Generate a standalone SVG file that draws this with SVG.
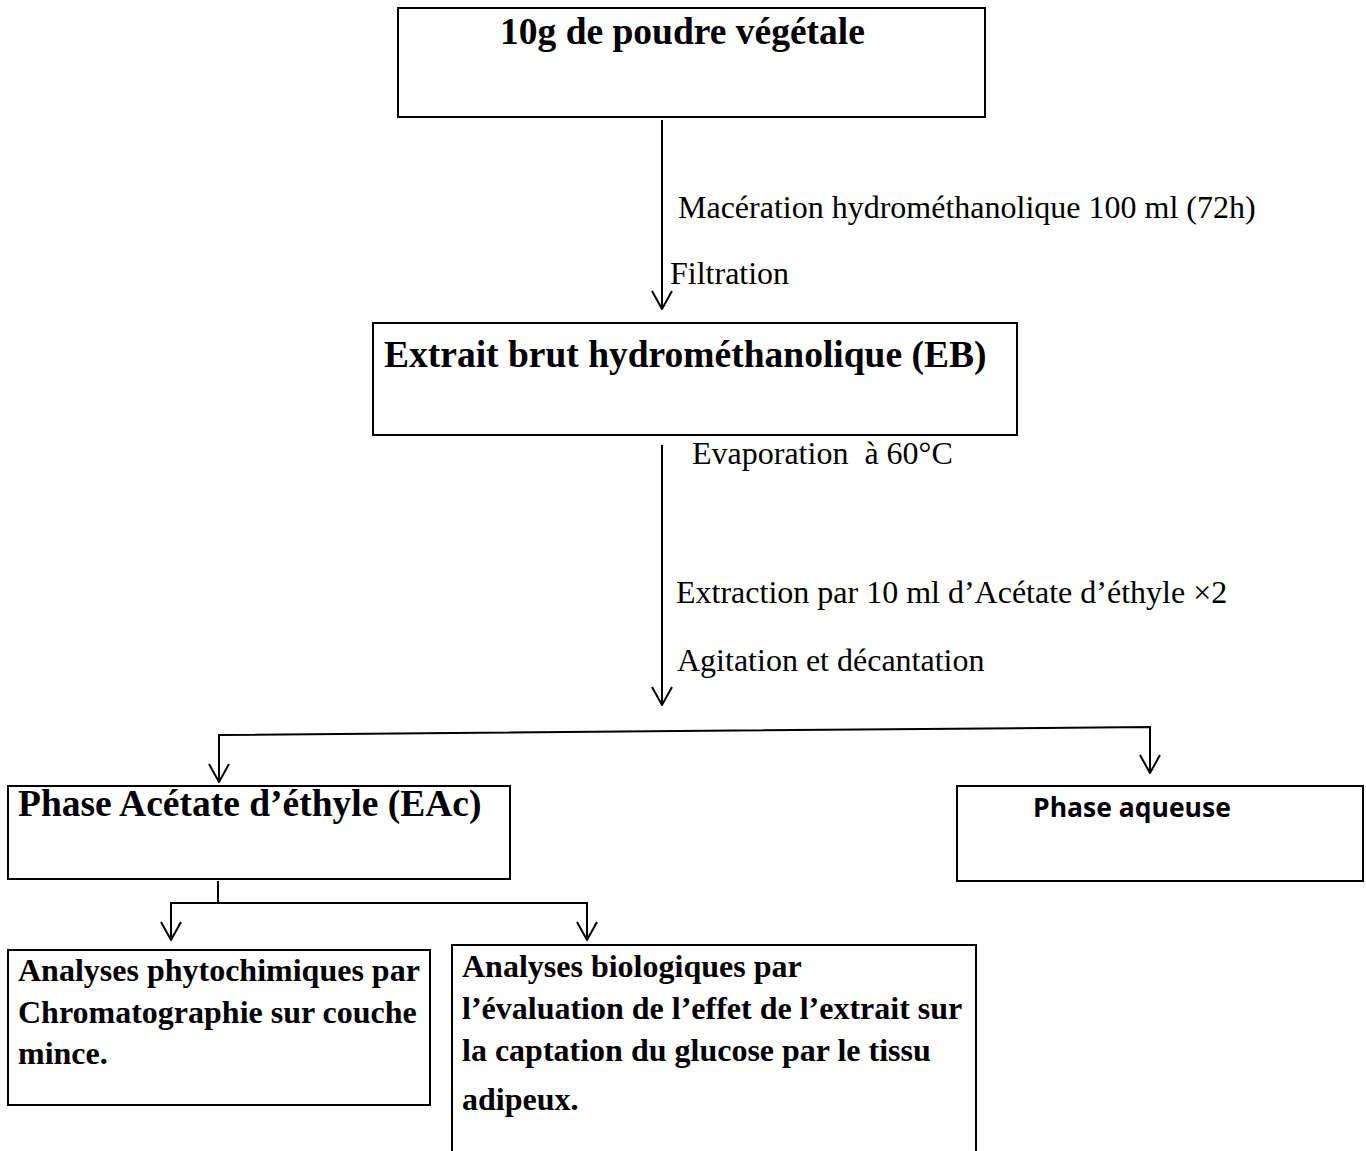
<svg xmlns="http://www.w3.org/2000/svg" width="1366" height="1151" viewBox="0 0 1366 1151">
<style>
.box{fill:#fff;stroke:#000;stroke-width:2}
.c{stroke:#000;stroke-width:2;fill:none}
</style>
<defs>
<marker id="v" markerWidth="20" markerHeight="24" refX="19" refY="12" orient="auto" markerUnits="userSpaceOnUse">
<path d="M1,2 L19,12 L1,22" fill="none" stroke="#000" stroke-width="2"/>
</marker>
</defs>
<rect width="1366" height="1151" fill="#fff"/>
<g id="connectors">
<line class="c" x1="662" y1="120" x2="662" y2="309" marker-end="url(#v)"/>
<line class="c" x1="662" y1="445" x2="662" y2="705" marker-end="url(#v)"/>
<polyline class="c" points="219,782 219,735 1150,727 1150,773"/>
<line class="c" x1="219" y1="740" x2="219" y2="782" marker-end="url(#v)"/>
<line class="c" x1="1150" y1="732" x2="1150" y2="773" marker-end="url(#v)"/>
<polyline class="c" points="218,881 218,903"/>
<polyline class="c" points="171,940 171,903 587,903 587,940"/>
<line class="c" x1="171" y1="910" x2="171" y2="940" marker-end="url(#v)"/>
<line class="c" x1="587" y1="910" x2="587" y2="940" marker-end="url(#v)"/>
</g>
<g id="labels" font-family="Liberation Serif" font-size="32" fill="#000">
<text x="678" y="218">Macération hydrométhanolique 100 ml (72h)</text>
<text x="670" y="284">Filtration</text>
<text x="692" y="464" xml:space="preserve">Evaporation  à 60°C</text>
<text x="676" y="603">Extraction par 10 ml d’Acétate d’éthyle ×2</text>
<text x="677" y="671">Agitation et décantation</text>
</g>
<g font-family="Liberation Serif" font-weight="bold" fill="#000">
<g id="n1">
<rect class="box" x="398" y="8" width="587" height="109"/>
<text x="500" y="44" font-size="37.5">10g de poudre végétale</text>
</g>
<g id="n2">
<rect class="box" x="373" y="323" width="644" height="112"/>
<text x="384" y="367" font-size="37.5">Extrait brut hydrométhanolique (EB)</text>
</g>
<g id="n3">
<rect class="box" x="8" y="786" width="502" height="93"/>
<text x="18" y="816" font-size="37.5">Phase Acétate d’éthyle (EAc)</text>
</g>
<g id="n5">
<rect class="box" x="8" y="950" width="422" height="155"/>
<text font-size="32">
<tspan x="18" y="981">Analyses phytochimiques par</tspan>
<tspan x="18" y="1023">Chromatographie sur couche</tspan>
<tspan x="18" y="1064">mince.</tspan>
</text>
</g>
<g id="n6">
<rect class="box" x="452" y="945" width="524" height="215"/>
<text font-size="32">
<tspan x="462" y="977">Analyses biologiques par</tspan>
<tspan x="462" y="1019">l’évaluation de l’effet de l’extrait sur</tspan>
<tspan x="462" y="1061">la captation du glucose par le tissu</tspan>
<tspan x="462" y="1110">adipeux.</tspan>
</text>
</g>
</g>
<g id="n4">
<rect class="box" x="957" y="786" width="406" height="95"/>
<text x="1033" y="817" font-family="Open Sans" font-weight="bold" font-size="26.5" fill="#000">Phase aqueuse</text>
</g>
</svg>
